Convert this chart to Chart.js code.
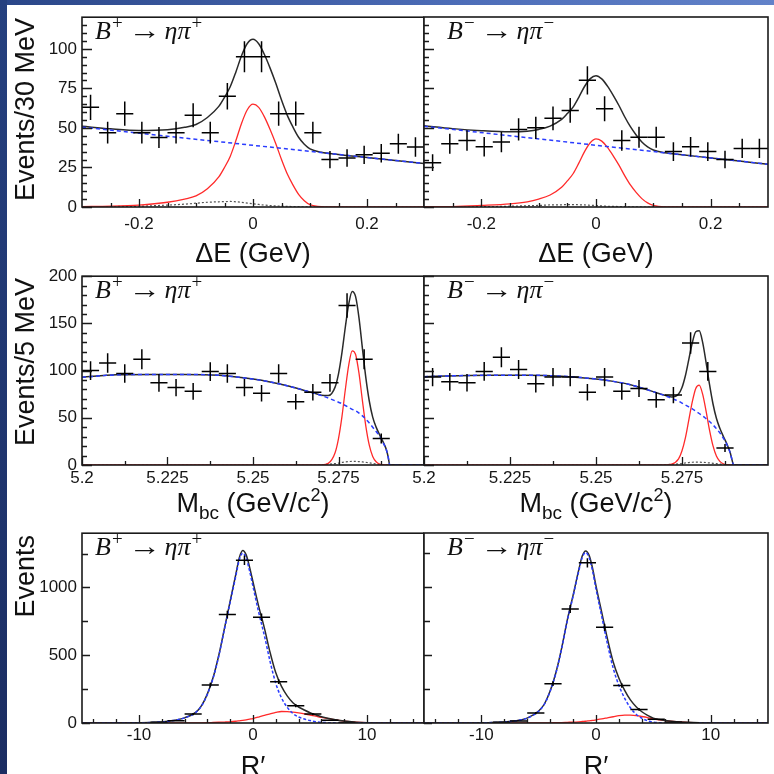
<!DOCTYPE html>
<html>
<head>
<meta charset="utf-8">
<script src="https://cdn.jsdelivr.net/npm/chart.js@4.4.1/dist/chart.umd.min.js"></script>
<style>
html,body{margin:0;padding:0;background:#fff;}
#root{position:relative;width:774px;height:774px;overflow:hidden;background:#fff;}
#root canvas{position:absolute;}
.strip-top{position:absolute;left:0;top:0;width:774px;height:5px;background:linear-gradient(to right,#2a4688,#4d6db8 60%,#6282c9);}
.strip-left{position:absolute;left:0;top:0;width:7px;height:774px;background:linear-gradient(to bottom,#25407f,#1b2d62);}
.lbl{position:absolute;font-family:"Liberation Serif","DejaVu Serif",serif;font-size:26px;line-height:26px;white-space:nowrap;color:#111;}
.lbl i{font-style:italic;}
.lbl sup{font-size:19px;line-height:0;vertical-align:10px;margin-left:1px;}
.lbl .ar{display:inline-block;margin:0 7px 0 9px;transform:scaleX(1.25);}
.xt{position:absolute;width:300px;text-align:center;font-family:"Liberation Sans",Arial,sans-serif;font-size:27px;line-height:27px;white-space:nowrap;color:#111;}
.xt sub{font-size:19px;line-height:0;vertical-align:-7px;}
.xt sup{font-size:18px;line-height:0;vertical-align:11px;}
.yt{position:absolute;right:764px;font-family:"Liberation Sans",Arial,sans-serif;font-size:27px;line-height:30px;white-space:nowrap;color:#111;transform-origin:right top;transform:rotate(-90deg);}
</style>
</head>
<body>
<div id="root">
  <div class="strip-top"></div>
  <div class="strip-left"></div>
</div>
<script>
// ================= DATA =================
// ---- ΔE panels (row 1) ----
const dE_centers = [-0.285,-0.255,-0.225,-0.195,-0.165,-0.135,-0.105,-0.075,-0.045,-0.015,0.015,0.045,0.075,0.105,0.135,0.165,0.195,0.225,0.255,0.285];
const dE_Bp_counts = [63,47,59,47,44,47,58,47,70,95,95,59,59,47,30,31,33,34,40,38];
const dE_Bm_counts = [28,40,42,38,41,49,50,56,61,80,62,42,44,44,35,38,35,30,37,37];
const dE_curveX = [-0.3,-0.25,-0.2,-0.15,-0.12,-0.1,-0.08,-0.06,-0.05,-0.04,-0.03,-0.02,-0.01,0,0.01,0.02,0.03,0.04,0.05,0.06,0.07,0.08,0.09,0.1,0.12,0.15,0.2,0.25,0.3];
const dE_Bp_total   = [51,49.4,48.4,48.9,50.4,52.2,56.6,63.6,69.3,76,85.4,95.8,103.4,106,103.2,96.4,87.8,78.2,67.6,58.1,50.6,44.1,39.7,36.8,34.6,33.2,31.3,29.4,27.5];
const dE_Bp_signal  = [0.3,0.5,1.2,3,5,7,11.5,19,25,32,42,53,61.5,65,63,57,49,40,30,21,14,8,4,1.5,0.2,0,0,0,0];
const dE_Bp_peaking = [0.2,0.3,0.5,1.2,1.8,2.4,3,3.3,3.4,3.5,3.3,3,2.5,2,1.6,1.2,0.9,0.7,0.5,0.4,0.3,0.2,0.15,0.1,0,0,0,0,0];
const dE_Bm_total   = [51.3,49.5,48.2,47.5,47.9,49,51.1,55.3,59,63.1,69.3,76.1,81.1,82.9,80.9,76.3,70.5,64.1,57,50.7,45.5,41.1,38,36,34.3,33,31,29,27];
const dE_Bm_signal  = [0.2,0.3,1,2,3.3,5,7.6,12.5,16.5,21,27.7,35,40.6,43,41.6,37.6,32.3,26.4,19.8,13.9,9.2,5.3,2.6,1,0.1,0,0,0,0];
const dE_Bm_peaking = [0.1,0.15,0.2,0.5,0.8,1,1.3,1.4,1.5,1.5,1.4,1.3,1.1,0.9,0.7,0.5,0.4,0.3,0.2,0.15,0.1,0,0,0,0,0,0,0,0];
const dE_bkgX = [-0.3,0.3];
const dE_Bp_bkg = [50.5,27.5];
const dE_Bm_bkg = [51,27];
const dE_xTicks = [-0.2,0,0.2];
const dE_xLabels = ['-0.2','0','0.2'];
const dE_xMinor = [-0.25,-0.15,-0.1,-0.05,0.05,0.1,0.15,0.25];
const dE_yTicks = [0,25,50,75,100];
const dE_yLabels = ['0','25','50','75','100'];
const dE_yMinor = [5,10,15,20,30,35,40,45,55,60,65,70,80,85,90,95,105,110,115];

// ---- Mbc panels (row 2) ----
const mbc_centers = [5.2025,5.2075,5.2125,5.2175,5.2225,5.2275,5.2325,5.2375,5.2425,5.2475,5.2525,5.2575,5.2625,5.2675,5.2725,5.2775,5.2825,5.2875];
const mbc_Bp_counts = [100,108,97,112,87,82,78,99,97,82,76,97,67,77,87,169,112,28];
const mbc_Bm_counts = [93,88,87,99,114,101,86,93,93,77,93,78,81,69,74,129,99,18];
const mbc_curveX = [5.2,5.21,5.22,5.23,5.24,5.25,5.255,5.26,5.265,5.268,5.27,5.272,5.274,5.275,5.276,5.277,5.278,5.279,5.28,5.281,5.282,5.283,5.284,5.285,5.286,5.287,5.288,5.289,5.2895,5.29,5.3];
const mbc_Bp_bkg     = [93,95.5,96,96,95,91,88,84,79,76,73.5,71,68,66.5,65,63,61,59,57.5,55,52,48.5,44.5,40,35.5,30.5,24,16,9,0,0];
const mbc_Bp_signal  = [0,0,0,0,0,0,0,0,0,0,0.1,1.7,13,28,51,80,106,121,117,97,68,41,21,9,3.4,1,0.3,0.1,0,0,0];
const mbc_Bp_peaking = [0,0,0,0,0,0,0,0,0,0,0.3,0.8,1.5,2,2.7,3.2,3.6,3.8,3.8,3.6,3.3,2.8,2.3,1.7,1.2,0.7,0.4,0.1,0,0,0];
const mbc_Bp_total   = [93,95.5,96,96,95,91,88,84,79,76,73.9,73.5,82.5,96.5,118.7,146.2,170.6,183.8,178.3,155.6,123.3,92.3,67.8,50.7,40.1,32.2,24.7,16.2,9,0,0];
const mbc_Bm_bkg     = [93.5,94.5,95,95,94,91,88.5,85,79.5,76,73.5,70.5,67.5,65.5,63.5,61.5,59.5,57,54.5,52,49,46,42.5,38.5,34,28.5,22,13,6,0,0];
const mbc_Bm_signal  = [0,0,0,0,0,0,0,0,0,0,0.05,0.8,6.5,15,29,48,67,81,84.5,75,57,37,20.5,9.5,3.8,1.3,0.4,0.1,0,0,0];
const mbc_Bm_peaking = [0,0,0,0,0,0,0,0,0,0,0.3,0.7,1.2,1.5,2.2,2.6,2.9,3,3,2.8,2.6,2.2,1.8,1.4,1,0.6,0.3,0.1,0,0,0];
const mbc_Bm_total   = [93.5,94.5,95,95,94,91,88.5,85,79.5,76,73.9,72,75.2,82,94.7,112.1,129.4,141,142,129.8,108.6,85.2,64.8,49.4,38.8,30.4,22.7,13.2,6,0,0];
const mbc_xTicks = [5.2,5.225,5.25,5.275];
const mbc_xLabels = ['5.2','5.225','5.25','5.275'];
const mbc_xMinor = [5.2125,5.2375,5.2625,5.2875];
const mbc_yTicks = [0,50,100,150,200];
const mbc_yLabels = ['0','50','100','150','200'];
const mbc_yMinor = [10,20,30,40,60,70,80,90,110,120,130,140,160,170,180,190];

// ---- R' panels (row 3) ----
const rp_centers = [-8.25,-6.75,-5.25,-3.75,-2.25,-0.75,0.75,2.25,3.75,5.25,6.75,8.25];
const rp_Bp_counts = [5,16,66,280,800,1200,780,305,127,66,20,3];
const rp_Bm_counts = [6,15,73,290,840,1180,705,277,100,27,5,1];
const rp_curveX = [-15,-11,-10,-9,-8,-7,-6,-5,-4.5,-4,-3.5,-3,-2.5,-2,-1.5,-1.2,-0.9,-0.6,-0.3,0,0.5,1,1.5,2,2.5,3,3.5,4,4.5,5,5.5,6,7,8,9,10,11,15];
const rp_Bp_total  = [0,0,1,3,8,18,38,80,130,215,335,500,700,900,1100,1220,1272,1240,1150,1040,860,700,520,370,270,200,150,118,96,76,60,46,27,14,6,2,0.5,0];
const rp_Bp_signal = [0,0,0,0,0,0,0,1,1.5,2.5,4,5.5,7,9,13,16,19,23,28,33,44,56,67,78,85,84,80,74,67,58,50,41,26,14,6,2,0.5,0];
const rp_Bp_bkg    = [0,0,1,3,8,18,38,79,128,212,331,494,693,891,1087,1204,1253,1217,1122,1007,816,644,453,292,185,116,70,44,29,18,10,5,1,0,0,0,0,0];
const rp_Bm_total  = [0,0,1,3,7,16,36,88,140,235,370,550,760,940,1130,1230,1268,1235,1140,1010,815,620,450,330,240,170,120,83,56,36,26,18.5,10,5,2,0.7,0.2,0];
const rp_Bm_signal = [0,0,0,0,0,0,0,0.5,1,1.5,2.5,3.5,5,6.5,9,11,13,16,19,23,30,38,46,54,58,58,55,48,40,30,24,18,10,5,2,0.7,0.2,0];
const rp_Bm_bkg    = [0,0,1,3,7,16,36,87,139,233,367,546,755,933,1121,1219,1255,1219,1121,987,785,582,404,276,182,112,65,35,16,6,2,0.5,0,0,0,0,0,0];
const rp_xTicks = [-10,0,10];
const rp_xLabels = ['-10','0','10'];
const rp_xMinor = [-14,-12,-8,-6,-4,-2,2,4,6,8,12,14];
const rp_yTicks = [0,500,1000];
const rp_yLabels = ['0','500','1000'];
const rp_yMinor = [250,750,1250];

// ================= DRAWING =================
const root = document.getElementById('root');
const ROWS = [{top:17,bottom:207},{top:276,bottom:465},{top:533,bottom:723}];
const TICK_FONT = {family:'"Liberation Sans", Arial, sans-serif', size:17};

function makeRootPlugin(cfg){
  return {
    id:'rootStyle',
    afterDraw(chart){
      const {ctx, chartArea:a, scales:{x, y}} = chart;
      // data points with error bars
      ctx.save();
      ctx.beginPath(); ctx.rect(a.left, a.top, a.right-a.left, a.bottom-a.top); ctx.clip();
      ctx.strokeStyle = '#000'; ctx.lineWidth = 1.5;
      cfg.centers.forEach((c,i)=>{
        const v = cfg.counts[i]; if (v == null) return;
        const e = Math.sqrt(v);
        const px = x.getPixelForValue(c), py = y.getPixelForValue(v);
        ctx.beginPath();
        ctx.moveTo(x.getPixelForValue(c-cfg.half), py); ctx.lineTo(x.getPixelForValue(c+cfg.half), py);
        ctx.moveTo(px, y.getPixelForValue(v-e)); ctx.lineTo(px, y.getPixelForValue(v+e));
        ctx.stroke();
      });
      ctx.restore();
      // inward ticks
      ctx.save();
      ctx.strokeStyle = '#1a1a1a'; ctx.lineWidth = 1.3;
      ctx.beginPath();
      const xt = (vals,len)=>vals.forEach(v=>{const p=Math.round(x.getPixelForValue(v))+0.5; ctx.moveTo(p,a.bottom); ctx.lineTo(p,a.bottom-len);});
      const yt = (vals,len)=>vals.forEach(v=>{const p=Math.round(y.getPixelForValue(v))+0.5; ctx.moveTo(a.left,p); ctx.lineTo(a.left+len,p);});
      xt(cfg.xTicks, 8); xt(cfg.xMinor, 4);
      yt(cfg.yTicks, cfg.yMajLen); yt(cfg.yMinor, cfg.yMinLen);
      ctx.stroke();
      ctx.lineWidth = 1.6; ctx.strokeStyle = '#1a1a1a';
      ctx.strokeRect(a.left, a.top, a.right-a.left, a.bottom-a.top);
      ctx.restore();
    }
  };
}

function curve(xs, ys, color, width, dash){
  return {data: xs.map((x,i)=>({x, y: ys[i]})), borderColor: color, borderWidth: width, borderDash: dash || [],
          pointRadius: 0, fill: false, cubicInterpolationMode: 'monotone'};
}

function panel(p){
  const row = ROWS[p.row];
  const padTop = 15, xAxisH = 30;
  const isLeft = p.side === 0;
  const cv = document.createElement('canvas');
  const left = isLeft ? 0 : 404;
  const w = isLeft ? 424 : 370;
  const h = row.bottom - row.top + padTop + xAxisH;
  cv.width = w; cv.height = h;
  cv.style.left = left + 'px'; cv.style.top = (row.top - padTop) + 'px';
  cv.style.width = w + 'px'; cv.style.height = h + 'px';
  root.appendChild(cv);
  new Chart(cv, {
    type: 'line',
    data: {datasets: p.curves},
    options: {
      responsive: false, animation: false, devicePixelRatio: 1,
      layout: {padding: {top: padTop, left: isLeft ? 0 : 20, right: isLeft ? 0 : 6, bottom: 0}},
      plugins: {legend: {display: false}, tooltip: {enabled: false}},
      elements: {line: {tension: 0}},
      scales: {
        x: {
          type: 'linear', min: p.xMin, max: p.xMax,
          afterBuildTicks: s => { s.ticks = p.xTicks.map(v => ({value: v})); },
          afterFit: s => { s.height = xAxisH; },
          grid: {display: false, drawTicks: false}, border: {display: false},
          ticks: {autoSkip: false, maxRotation: 0, padding: p.xPad, font: TICK_FONT, color: '#161616',
                  callback: (v, i) => p.xLabels[i]}
        },
        y: {
          type: 'linear', min: 0, max: p.yMax, display: isLeft,
          afterBuildTicks: s => { s.ticks = p.yTicks.map(v => ({value: v})); },
          afterFit: s => { if (isLeft) s.width = 82; },
          grid: {display: false, drawTicks: false}, border: {display: false},
          ticks: {autoSkip: false, padding: 5, font: TICK_FONT, color: '#161616',
                  callback: (v, i) => p.yLabels[i]}
        }
      }
    },
    plugins: [makeRootPlugin({centers: p.centers, counts: p.counts, half: p.half,
      xTicks: p.xTicks, xMinor: p.xMinor, yTicks: p.yTicks, yMinor: p.yMinor,
      yMajLen: p.yMajLen, yMinLen: p.yMinLen})]
  });
}

const BLK = '#2a2a2a', RED = '#ff2a2a', BLU = '#2a3cff', DOT = '#555';

// Row 1: ΔE
[[dE_Bp_counts, dE_Bp_total, dE_Bp_signal, dE_Bp_peaking, dE_Bp_bkg],
 [dE_Bm_counts, dE_Bm_total, dE_Bm_signal, dE_Bm_peaking, dE_Bm_bkg]].forEach((s, side) => {
  panel({row: 0, side, xMin: -0.3, xMax: 0.3, yMax: 120,
    xTicks: dE_xTicks, xLabels: dE_xLabels, xMinor: dE_xMinor,
    yTicks: dE_yTicks, yLabels: dE_yLabels, yMinor: dE_yMinor, yMajLen: 10, yMinLen: 5, xPad: 7,
    centers: dE_centers, counts: s[0], half: 0.015,
    curves: [curve(dE_bkgX, s[4], BLU, 1.5, [4,3]),
             curve(dE_curveX, s[1], BLK, 1.5),
             curve(dE_curveX, s[2], RED, 1.3),
             curve(dE_curveX, s[3], DOT, 1.2, [2,2])]});
});

// Row 2: Mbc
[[mbc_Bp_counts, mbc_Bp_total, mbc_Bp_signal, mbc_Bp_peaking, mbc_Bp_bkg],
 [mbc_Bm_counts, mbc_Bm_total, mbc_Bm_signal, mbc_Bm_peaking, mbc_Bm_bkg]].forEach((s, side) => {
  panel({row: 1, side, xMin: 5.2, xMax: 5.3, yMax: 200,
    xTicks: mbc_xTicks, xLabels: mbc_xLabels, xMinor: mbc_xMinor,
    yTicks: mbc_yTicks, yLabels: mbc_yLabels, yMinor: mbc_yMinor, yMajLen: 10, yMinLen: 5, xPad: 3,
    centers: mbc_centers, counts: s[0], half: 0.0025,
    curves: [curve(mbc_curveX, s[4], BLU, 1.5, [4,3]),
             curve(mbc_curveX, s[1], BLK, 1.5),
             curve(mbc_curveX, s[2], RED, 1.3),
             curve(mbc_curveX, s[3], DOT, 1.2, [2,2])]});
});

// Row 3: R'
[[rp_Bp_counts, rp_Bp_total, rp_Bp_signal, rp_Bp_bkg],
 [rp_Bm_counts, rp_Bm_total, rp_Bm_signal, rp_Bm_bkg]].forEach((s, side) => {
  panel({row: 2, side, xMin: -15, xMax: 15, yMax: 1400,
    xTicks: rp_xTicks, xLabels: rp_xLabels, xMinor: rp_xMinor,
    yTicks: rp_yTicks, yLabels: rp_yLabels, yMinor: rp_yMinor, yMajLen: 8, yMinLen: 6, xPad: 2,
    centers: rp_centers, counts: s[0], half: 0.75,
    curves: [curve(rp_curveX, s[3], BLU, 1.5, [3,2]),
             curve(rp_curveX, s[1], BLK, 1.5),
             curve(rp_curveX, s[2], RED, 1.3)]});
});

// ================= TEXT =================
function addHTML(cls, style, html){
  const d = document.createElement('div');
  d.className = cls; d.setAttribute('style', style); d.innerHTML = html;
  root.appendChild(d);
}
const plusLbl = '<i>B</i><sup>+</sup><span class="ar">&rarr;</span><i>&eta;&pi;</i><sup>+</sup>';
const minusLbl = '<i>B</i><sup>&minus;</sup><span class="ar">&rarr;</span><i>&eta;&pi;</i><sup>&minus;</sup>';
ROWS.forEach(r => {
  addHTML('lbl', `left:95px;top:${r.top+1}px;`, plusLbl);
  addHTML('lbl', `left:447px;top:${r.top+1}px;`, minusLbl);
});
addHTML('yt', 'top:18px;', 'Events/30 MeV');
addHTML('yt', 'top:278px;', 'Events/5 MeV');
addHTML('yt', 'top:535px;', 'Events');
[103, 446].forEach(l => {
  addHTML('xt', `left:${l}px;top:240px;`, '&Delta;E (GeV)');
  addHTML('xt', `left:${l}px;top:490px;`, 'M<sub>bc</sub> (GeV/c<sup>2</sup>)');
  addHTML('xt', `left:${l}px;top:753px;`, 'R&prime;');
});
</script>
</body>
</html>
